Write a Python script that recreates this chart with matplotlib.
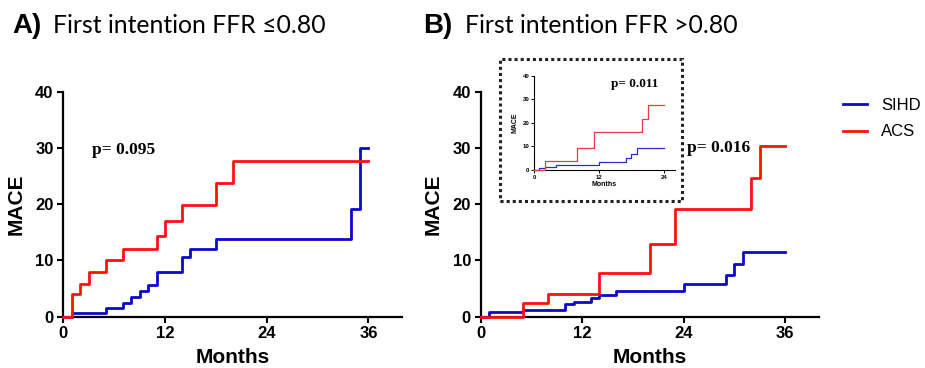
import matplotlib
matplotlib.use("Agg")
import matplotlib.pyplot as plt
from matplotlib.patches import Rectangle

# ---------------- data ----------------
a_red_t = [0, 1, 2, 3, 5, 7, 11, 12, 14, 18, 20, 36]
a_red_v = [0, 4.0, 5.9, 7.9, 10.0, 12.1, 14.4, 17.0, 19.9, 23.8, 27.6, 27.6]
a_blue_t = [0, 1, 5, 7, 8, 9, 10, 11, 14, 15, 18, 34, 35, 36]
a_blue_v = [0, 0.7, 1.5, 2.5, 3.5, 4.6, 5.6, 7.9, 10.6, 12.1, 13.8, 19.2, 30.0, 30.0]

b_red_t = [0, 5, 8, 14, 20, 23, 32, 33, 36]
b_red_v = [0, 2.5, 4.0, 7.8, 13.0, 19.2, 24.6, 30.4, 30.4]
b_blue_t = [0, 1, 5, 10, 11, 13, 14, 16, 24, 29, 30, 31, 36]
b_blue_v = [0, 0.9, 1.2, 2.2, 2.7, 3.3, 3.8, 4.5, 5.8, 7.4, 9.4, 11.5, 11.5]

in_red_t = [0, 2, 8, 11, 20, 21, 24]
in_red_v = [0, 4.0, 9.5, 16.0, 21.5, 27.5, 27.5]
in_blue_t = [0, 1, 2, 4, 12, 17, 18, 19, 24]
in_blue_v = [0, 0.8, 1.3, 2.0, 3.3, 5.0, 6.9, 9.2, 9.2]

main_xticks = [0, 12, 24, 36]
main_yticks = [0, 10, 20, 30, 40]
inset_xticks = [0, 12, 24]
inset_yticks = [0, 10, 20, 30, 40]

labels = ["SIHD", "ACS"]
p_a, p_b, p_in = "p= 0.095", "p= 0.016", "p= 0.011"
title_a = "First intention FFR \u22640.80"
title_b = "First intention FFR >0.80"

BLUE = "#0a0ac8"
RED = "#ff1010"

fig = plt.figure(figsize=(9.25, 3.68), dpi=100)

def style_main(ax):
    ax.set_xlim(0, 40)
    ax.set_ylim(0, 40)
    ax.set_xticks(main_xticks)
    ax.set_yticks(main_yticks)
    for s in ["top", "right"]:
        ax.spines[s].set_visible(False)
    for s in ["left", "bottom"]:
        ax.spines[s].set_linewidth(1.6)
    ax.tick_params(direction="out", length=4.5, width=1.5, labelsize=12, pad=2.5)
    for lab in ax.get_xticklabels() + ax.get_yticklabels():
        lab.set_fontweight("bold")
        lab.set_fontfamily("Liberation Sans")
    ax.set_xlabel("Months", fontsize=15, fontweight="bold", family="Liberation Sans", labelpad=5)
    ax.set_ylabel("MACE", fontsize=15, fontweight="bold", family="Liberation Sans", labelpad=7)

axA = fig.add_axes([63.3/925, (368-316.7)/368, 339/925, 225/368])
lb, = axA.step(a_blue_t, a_blue_v, where="post", color=BLUE, lw=2.0, clip_on=False, zorder=3)
lr, = axA.step(a_red_t, a_red_v, where="post", color=RED, lw=2.0, clip_on=False, zorder=4)
style_main(axA)
axA.text(3.4, 28.9, p_a, family="Liberation Serif", fontweight="bold", fontsize=12.5, va="baseline")

axB = fig.add_axes([480.7/925, (368-316.7)/368, 338/925, 225/368])
axB.step(b_blue_t, b_blue_v, where="post", color=BLUE, lw=2.0, clip_on=False, zorder=3)
axB.step(b_red_t, b_red_v, where="post", color=RED, lw=2.0, clip_on=False, zorder=4)
style_main(axB)
axB.text(24.4, 29.2, p_b, family="Liberation Serif", fontweight="bold", fontsize=12.5, va="baseline")

# inset
axI = fig.add_axes([534/925, (368-170)/368, 140.8/925, 94.3/368])
axI.step(in_blue_t, in_blue_v, where="post", color="#2a2ad8", lw=0.9, clip_on=False, zorder=3)
axI.step(in_red_t, in_red_v, where="post", color="#f03a3a", lw=0.9, clip_on=False, zorder=4)
axI.set_xlim(0, 26)
axI.set_ylim(0, 40)
axI.set_xticks(inset_xticks)
axI.set_yticks(inset_yticks)
for s in ["top", "right"]:
    axI.spines[s].set_visible(False)
for s in ["left", "bottom"]:
    axI.spines[s].set_linewidth(0.8)
axI.tick_params(direction="out", length=2, width=0.7, labelsize=4.3, pad=1.5)
for lab in axI.get_xticklabels() + axI.get_yticklabels():
    lab.set_fontweight("bold")
    lab.set_fontfamily("Liberation Sans")
axI.set_xlabel("Months", fontsize=5, fontweight="bold", family="Liberation Sans", labelpad=1)
axI.set_ylabel("MACE", fontsize=5, fontweight="bold", family="Liberation Sans", labelpad=3)
axI.text(14.3, 35.3, p_in, family="Liberation Serif", fontweight="bold", fontsize=9.5, va="baseline")

fig.patches.append(Rectangle((500/925, (368-201)/368), 182/925, 142/368,
                             transform=fig.transFigure, fill=False, edgecolor="#222222",
                             linewidth=2.2, linestyle=(0, (1, 1))))

# titles
fig.text(12/925, 1 - 33.3/368, "A)", family="Liberation Sans", fontweight="bold", fontsize=20, va="baseline")
fig.text(53/925, 1 - 33.3/368, title_a, family=["Lato", "DejaVu Sans"], fontsize=17.8, va="baseline")
fig.text(423/925, 1 - 33.3/368, "B)", family="Liberation Sans", fontweight="bold", fontsize=20, va="baseline")
fig.text(465/925, 1 - 33.3/368, title_b, family=["Lato", "DejaVu Sans"], fontsize=17.8, va="baseline")

# legend
fig.legend([lb, lr], labels, loc="upper left", bbox_to_anchor=(836/925, 1 - 91/368),
           frameon=False, prop={"family": "Liberation Sans", "size": 12},
           handlelength=1.45, handletextpad=0.85, labelspacing=0.7, borderaxespad=0)

fig.savefig("out.png", dpi=100)
